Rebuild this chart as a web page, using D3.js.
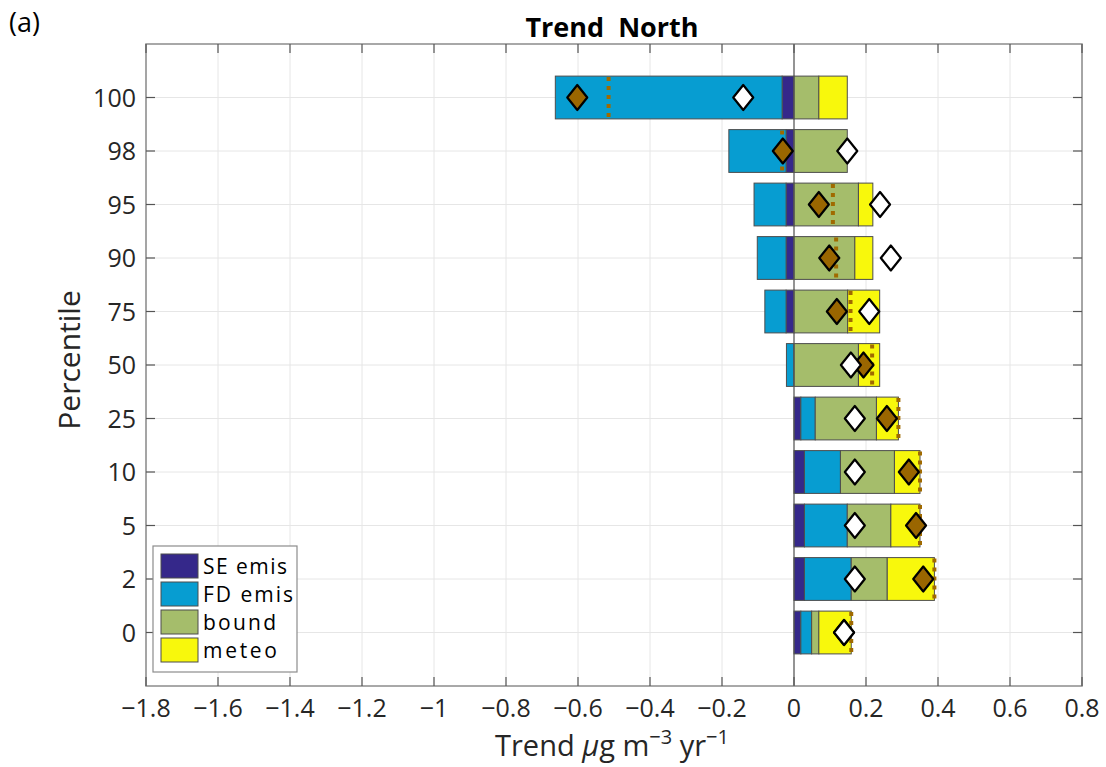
<!DOCTYPE html>
<html>
<head>
<meta charset="utf-8">
<script src="https://cdn.jsdelivr.net/npm/d3@7"></script>
<style>
	body { margin: 0; background: #fff; }
	svg { font-family: 'Open Sans', 'Noto Sans', sans-serif; }
</style>
</head>
<body>
<div id="chart"></div>
<script>
// percentiles, top to bottom
const percentiles = ['100', '98', '95', '90', '75', '50', '25', '10', '5', '2', '0']

// stacked components (ug m-3 yr-1)
const seEmis = [-0.033, -0.022, -0.022, -0.022, -0.022, 0, 0.019, 0.029, 0.029, 0.029, 0.019]
const fdEmis = [-0.63, -0.159, -0.089, -0.080, -0.059, -0.021, 0.040, 0.100, 0.119, 0.130, 0.030]
const bound = [0.069, 0.148, 0.179, 0.169, 0.149, 0.179, 0.170, 0.150, 0.121, 0.100, 0.020]
const meteo = [0.079, 0, 0.040, 0.050, 0.089, 0.059, 0.061, 0.071, 0.081, 0.131, 0.090]

// diamond markers
const brownMarks = [-0.602, -0.031, 0.069, 0.098, 0.119, 0.193, 0.258, 0.319, 0.339, 0.359, 0.139]
const whiteMarks = [-0.141, 0.148, 0.239, 0.269, 0.209, 0.158, 0.169, 0.169, 0.169, 0.169, 0.139]

const seriesNames = ['SE emis', 'FD emis', 'bound', 'meteo']
const seriesColors = ['#35288a', '#079dd1', '#a5bd6b', '#f8f80c']
const xTicks = [-1.8, -1.6, -1.4, -1.2, -1, -0.8, -0.6, -0.4, -0.2, 0, 0.2, 0.4, 0.6, 0.8]

const width = 1106, height = 767
const margin = { top: 44, right: 24, bottom: 81, left: 146 }
const chartWidth = width - margin.left - margin.right
const chartHeight = height - margin.top - margin.bottom

const rows = percentiles.map((p, i) => ({
	p,
	'SE emis': seEmis[i],
	'FD emis': fdEmis[i],
	bound: bound[i],
	meteo: meteo[i],
	brown: brownMarks[i],
	white: whiteMarks[i],
	total: seEmis[i] + fdEmis[i] + bound[i] + meteo[i],
}))

const x = d3.scaleLinear().domain([-1.8, 0.8]).range([0, chartWidth])
const y = d3.scaleBand().domain(percentiles).range([0, chartHeight])
	.paddingInner(0.2).paddingOuter(0.6)

const svg = d3.select('#chart').append('svg')
	.attr('width', width).attr('height', height)

const chart = svg.append('g')
	.attr('transform', `translate(${margin.left},${margin.top})`)

// grid
chart.append('g').selectAll('line').data(xTicks).join('line')
	.attr('x1', d => x(d)).attr('x2', d => x(d))
	.attr('y1', 0).attr('y2', chartHeight)
	.attr('stroke', '#e6e6e6')
chart.append('g').selectAll('line').data(percentiles).join('line')
	.attr('x1', 0).attr('x2', chartWidth)
	.attr('y1', d => y(d) + y.bandwidth() / 2).attr('y2', d => y(d) + y.bandwidth() / 2)
	.attr('stroke', '#e6e6e6')

// stacked bars
const stack = d3.stack().keys(seriesNames).offset(d3.stackOffsetDiverging)
const stacked = stack(rows)

chart.append('g').selectAll('g').data(stacked).join('g')
	.attr('fill', (d, i) => seriesColors[i])
	.selectAll('rect').data(d => d.filter(s => s[1] - s[0] !== 0)).join('rect')
	.attr('x', d => x(Math.min(d[0], d[1])))
	.attr('width', d => Math.abs(x(d[1]) - x(d[0])))
	.attr('y', d => y(d.data.p))
	.attr('height', y.bandwidth())
	.attr('stroke', '#4d4d4d')
	.attr('stroke-width', 1)

// net total, dotted
chart.append('g').selectAll('line').data(rows).join('line')
	.attr('x1', d => x(d.total)).attr('x2', d => x(d.total))
	.attr('y1', d => y(d.p) + 1).attr('y2', d => y(d.p) + y.bandwidth())
	.attr('stroke', '#a06a00')
	.attr('stroke-width', 4)
	.attr('stroke-dasharray', '4,5')

// zero line
chart.append('line')
	.attr('x1', x(0)).attr('x2', x(0))
	.attr('y1', 0).attr('y2', chartHeight)
	.attr('stroke', '#555').attr('stroke-width', 1.2)

// diamonds
const diamond = (cx, cy) => {
	const w = 10, h = 12.5
	return `M${cx},${cy - h}L${cx + w},${cy}L${cx},${cy + h}L${cx - w},${cy}Z`
}
chart.append('g').selectAll('path').data(rows).join('path')
	.attr('d', d => diamond(x(d.brown), y(d.p) + y.bandwidth() / 2))
	.attr('fill', '#9a6600').attr('stroke', '#000').attr('stroke-width', 2.2)
	.attr('stroke-linejoin', 'round')
chart.append('g').selectAll('path').data(rows).join('path')
	.attr('d', d => diamond(x(d.white), y(d.p) + y.bandwidth() / 2))
	.attr('fill', '#fff').attr('stroke', '#000').attr('stroke-width', 2.2)
	.attr('stroke-linejoin', 'round')

// axes box
chart.append('rect')
	.attr('width', chartWidth).attr('height', chartHeight)
	.attr('fill', 'none').attr('stroke', '#8c8c8c').attr('stroke-width', 1.5)

const tickLen = 9
const tickG = chart.append('g').attr('stroke', '#555').attr('stroke-width', 1.2)
xTicks.forEach(t => {
	tickG.append('line').attr('x1', x(t)).attr('x2', x(t)).attr('y1', chartHeight).attr('y2', chartHeight - tickLen)
	tickG.append('line').attr('x1', x(t)).attr('x2', x(t)).attr('y1', 0).attr('y2', tickLen)
})
percentiles.forEach(p => {
	const yy = y(p) + y.bandwidth() / 2
	tickG.append('line').attr('x1', 0).attr('x2', tickLen).attr('y1', yy).attr('y2', yy)
	tickG.append('line').attr('x1', chartWidth).attr('x2', chartWidth - tickLen).attr('y1', yy).attr('y2', yy)
})

// tick labels
chart.append('g').selectAll('text').data(xTicks).join('text')
	.attr('x', d => x(d)).attr('y', chartHeight + 31)
	.attr('text-anchor', 'middle')
	.attr('font-size', 25).attr('fill', '#262626')
	.text(d => d3.format('')(d).replace('-', '\u2212'))
chart.append('g').selectAll('text').data(percentiles).join('text')
	.attr('x', -10).attr('y', d => y(d) + y.bandwidth() / 2)
	.attr('dy', '0.36em')
	.attr('text-anchor', 'end')
	.attr('font-size', 25).attr('fill', '#262626')
	.text(d => d)

// labels
svg.append('text')
	.attr('x', 612).attr('y', 37)
	.attr('text-anchor', 'middle')
	.attr('font-size', 27).attr('font-weight', 'bold')
	.attr('xml:space', 'preserve')
	.text('Trend  North')

svg.append('text')
	.attr('x', 9).attr('y', 32)
	.attr('font-size', 27)
	.text('(a)')

svg.append('text')
	.attr('transform', `translate(80,${margin.top + chartHeight / 2 - 5}) rotate(-90)`)
	.attr('text-anchor', 'middle')
	.attr('font-size', 30).attr('fill', '#262626')
	.text('Percentile')

const xl = svg.append('text')
	.attr('x', 612).attr('y', 756)
	.attr('text-anchor', 'middle')
	.attr('font-size', 29).attr('fill', '#262626')
xl.append('tspan').text('Trend ')
xl.append('tspan').attr('font-style', 'italic').text('\u03bc')
xl.append('tspan').text('g m')
xl.append('tspan').attr('dy', -12).attr('font-size', 20).text('\u22123')
xl.append('tspan').attr('dy', 12).text(' yr')
xl.append('tspan').attr('dy', -12).attr('font-size', 20).text('\u22121')

// legend
const legend = svg.append('g').attr('transform', 'translate(153,546)')
legend.append('rect')
	.attr('width', 144).attr('height', 126)
	.attr('fill', '#fff').attr('stroke', '#8c8c8c').attr('stroke-width', 1.2)
const item = legend.selectAll('g.item').data(seriesNames).join('g')
	.attr('class', 'item')
	.attr('transform', (d, i) => `translate(8,${8 + i * 28})`)
item.append('rect')
	.attr('width', 37).attr('height', 24)
	.attr('fill', (d, i) => seriesColors[i])
	.attr('stroke', '#4d4d4d')
item.append('text')
	.attr('x', 42).attr('y', 12).attr('dy', '0.36em')
	.attr('font-size', 21).attr('fill', '#000')
	.attr('textLength', (d, i) => [84, 90, 73, 74][i])
	.text(d => d)
</script>
</body>
</html>
